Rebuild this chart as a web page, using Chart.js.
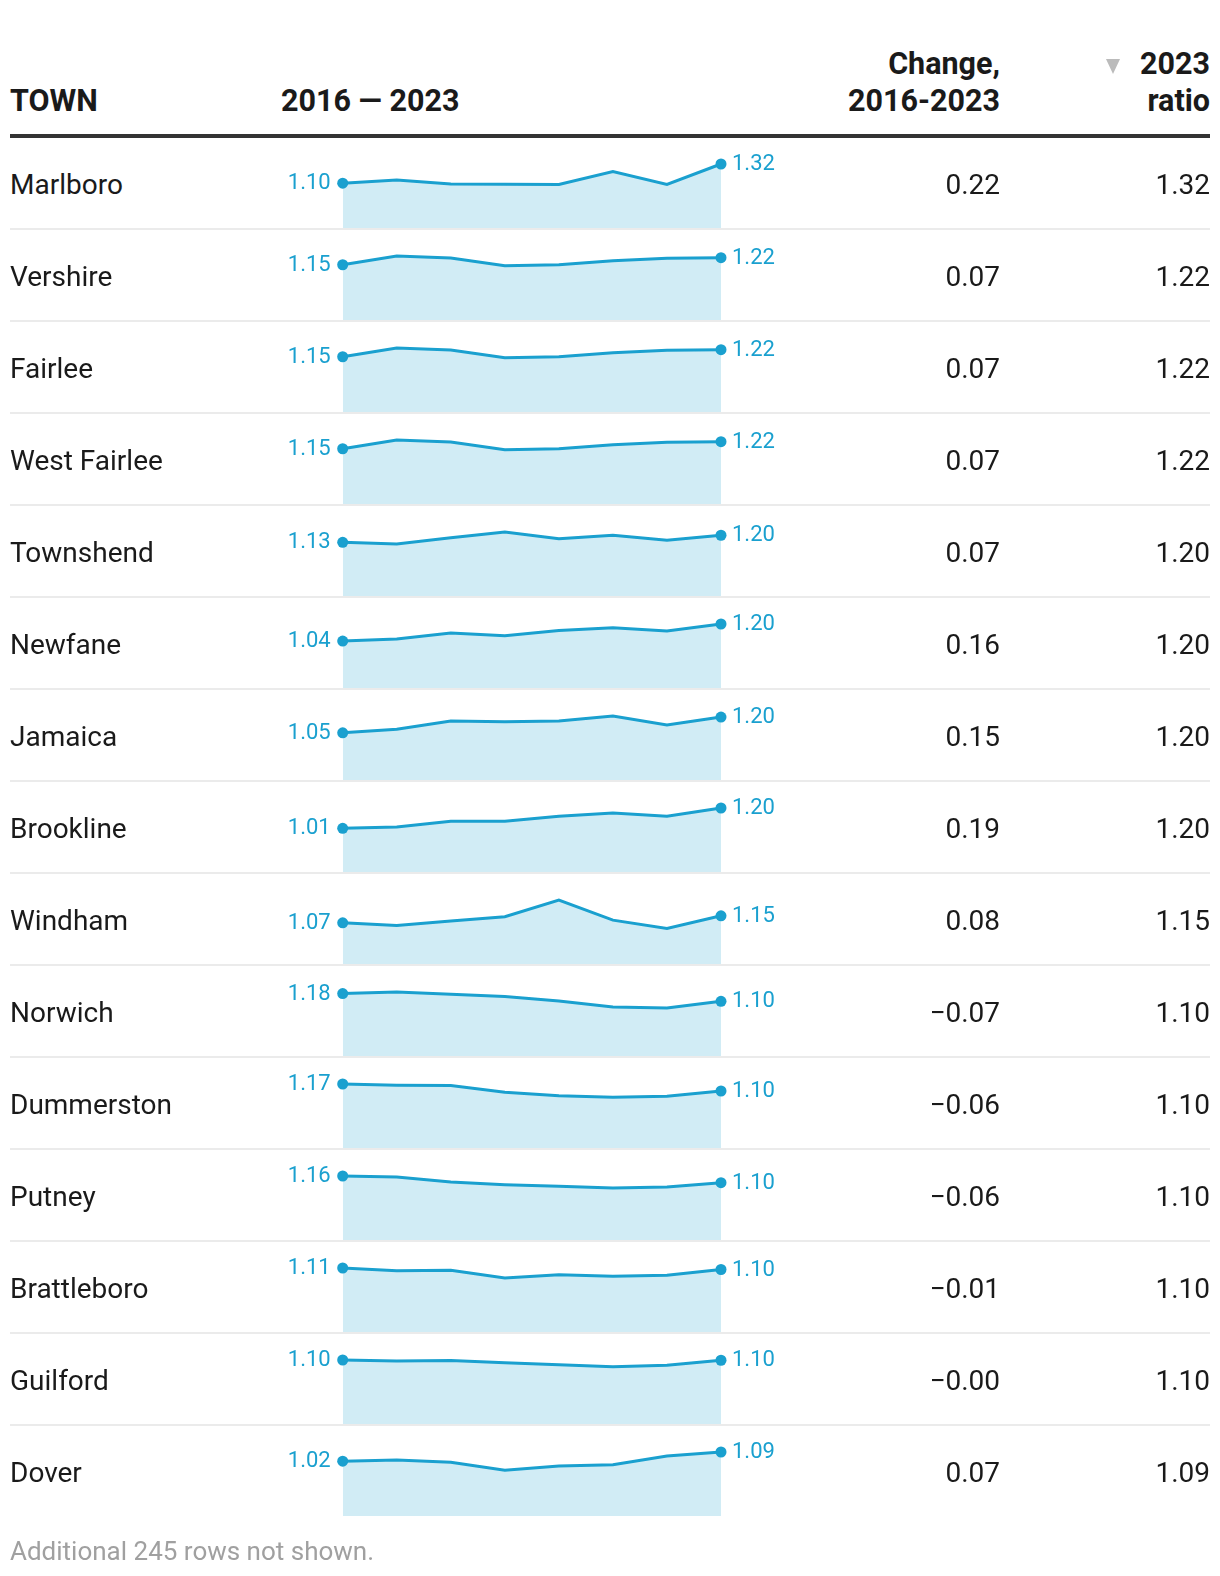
<!DOCTYPE html>
<html>
<head>
<meta charset="utf-8">
<script src="https://cdn.jsdelivr.net/npm/chart.js@4.4.1/dist/chart.umd.min.js"></script>
<style>
  html, body { margin: 0; padding: 0; background: #fff; overflow: hidden; }
  body { font-family: Roboto, "Noto Sans", sans-serif; color: #1a1a1a; }
  #wrap { position: relative; margin-left: 10px; width: 1200px; }
  .head { display: flex; align-items: flex-end; height: 119px; padding-bottom: 15px;
          border-bottom: 4px solid #333; font-weight: 700; font-size: 30.5px; line-height: 37px; }
  .row { display: flex; align-items: center; height: 90px; border-bottom: 2px solid #ebebeb;
         font-size: 28px; box-sizing: content-box; }
  .row:last-child { border-bottom: none; }
  .c-town { width: 260px; }
  .c-spark { width: 530px; }
  .c-chg { width: 200px; text-align: right; }
  .c-ratio { width: 210px; text-align: right; }
  .head .c-spark { padding-left: 11px; width: 519px; }
  .row .txt { padding-top: 2px; }
  .row canvas { display: block; }
  .tri { display: inline-block; width: 0; height: 0; border-left: 7.5px solid transparent;
         border-right: 7.5px solid transparent; border-top: 15px solid #bbb; margin-right: 20px; }
  .foot { margin-top: 20px; font-size: 26px; line-height: 30px; color: #a0a0a0; }
</style>
</head>
<body>
<div id="wrap">
  <div class="head">
    <div class="c-town">TOWN</div>
    <div class="c-spark">2016 — 2023</div>
    <div class="c-chg">Change,<br>2016-2023</div>
    <div class="c-ratio"><span class="tri"></span>2023<br>ratio</div>
  </div>
  <div id="rows"></div>
  <div class="foot">Additional 245 rows not shown.</div>
</div>
<script>
// --- DATOS ---
const years = ['2016', '2017', '2018', '2019', '2020', '2021', '2022', '2023'];
const towns = ['Marlboro', 'Vershire', 'Fairlee', 'West Fairlee', 'Townshend', 'Newfane', 'Jamaica',
               'Brookline', 'Windham', 'Norwich', 'Dummerston', 'Putney', 'Brattleboro', 'Guilford', 'Dover'];

const marlboro    = [1.104, 1.14, 1.095, 1.093, 1.09, 1.235, 1.09, 1.32];
const vershire    = [1.15, 1.237, 1.216, 1.14, 1.15, 1.19, 1.215, 1.22];
const fairlee     = [1.15, 1.237, 1.216, 1.14, 1.15, 1.19, 1.215, 1.22];
const westFairlee = [1.15, 1.237, 1.216, 1.14, 1.15, 1.19, 1.215, 1.22];
const townshend   = [1.13, 1.113, 1.175, 1.232, 1.166, 1.20, 1.15, 1.20];
const newfane     = [1.04, 1.06, 1.115, 1.09, 1.14, 1.165, 1.135, 1.20];
const jamaica     = [1.05, 1.083, 1.162, 1.156, 1.162, 1.21, 1.124, 1.20];
const brookline   = [1.01, 1.022, 1.075, 1.075, 1.122, 1.153, 1.122, 1.20];
const windham     = [1.07, 1.04, 1.09, 1.14, 1.33, 1.10, 1.005, 1.15];
const norwich     = [1.176, 1.19, 1.17, 1.148, 1.108, 1.052, 1.042, 1.104];
const dummerston  = [1.166, 1.155, 1.152, 1.093, 1.063, 1.048, 1.057, 1.104];
const putney      = [1.158, 1.149, 1.106, 1.082, 1.068, 1.053, 1.062, 1.10];
const brattleboro = [1.11, 1.089, 1.092, 1.03, 1.057, 1.044, 1.052, 1.098];
const guilford    = [1.102, 1.094, 1.099, 1.081, 1.065, 1.05, 1.06, 1.10];
const dover       = [1.02, 1.028, 1.012, 0.951, 0.982, 0.992, 1.059, 1.09];

const series = [marlboro, vershire, fairlee, westFairlee, townshend, newfane, jamaica,
                brookline, windham, norwich, dummerston, putney, brattleboro, guilford, dover];

// base común de las mini gráficas
const yFloor = 0.6;

const lineColor = '#1aa0cf';
const fillColor = 'rgba(26, 160, 207, 0.2)';

const fmt = v => v.toFixed(2).replace('-', '\u2212');

// etiquetas del primer y último valor
const endLabels = {
    id: 'endLabels',
    afterDatasetsDraw(chart) {
        const pts = chart.getDatasetMeta(0).data;
        const vals = chart.data.datasets[0].data;
        const first = pts[0], last = pts[pts.length - 1];
        const ctx = chart.ctx;
        ctx.save();
        ctx.font = '22px Roboto';
        ctx.fillStyle = lineColor;
        ctx.textBaseline = 'alphabetic';
        ctx.textAlign = 'right';
        ctx.fillText(fmt(vals[0]), first.x - 12, first.y + 6);
        ctx.textAlign = 'left';
        ctx.fillText(fmt(vals[vals.length - 1]), last.x + 11, last.y + 6);
        ctx.restore();
    }
};

const rowsEl = document.getElementById('rows');

towns.forEach((town, i) => {
    const vals = series[i];
    const n = vals.length;
    const row = document.createElement('div');
    row.className = 'row';
    row.innerHTML =
        '<div class="c-town txt">' + town + '</div>' +
        '<div class="c-spark"><canvas width="530" height="90"></canvas></div>' +
        '<div class="c-chg txt">' + fmt(vals[n - 1] - vals[0]) + '</div>' +
        '<div class="c-ratio txt">' + fmt(vals[n - 1]) + '</div>';
    rowsEl.appendChild(row);

    const ctx = row.querySelector('canvas').getContext('2d');
    new Chart(ctx, {
        type: 'line',
        data: {
            labels: years,
            datasets: [{
                data: vals,
                borderColor: lineColor,
                borderWidth: 3,
                backgroundColor: fillColor,
                fill: 'start',
                tension: 0,
                clip: false,
                pointRadius: c => (c.dataIndex === 0 || c.dataIndex === n - 1) ? 5.5 : 0,
                pointBackgroundColor: lineColor,
                pointBorderWidth: 0
            }]
        },
        options: {
            responsive: false,
            animation: false,
            events: [],
            layout: { autoPadding: false, padding: { top: 26, bottom: 0, left: 72.7, right: 79 } },
            plugins: { legend: { display: false }, tooltip: { enabled: false } },
            scales: {
                x: { display: false, offset: false },
                y: { display: false, min: yFloor, max: Math.max(...vals) }
            }
        },
        plugins: [endLabels]
    });
});
</script>
</body>
</html>
